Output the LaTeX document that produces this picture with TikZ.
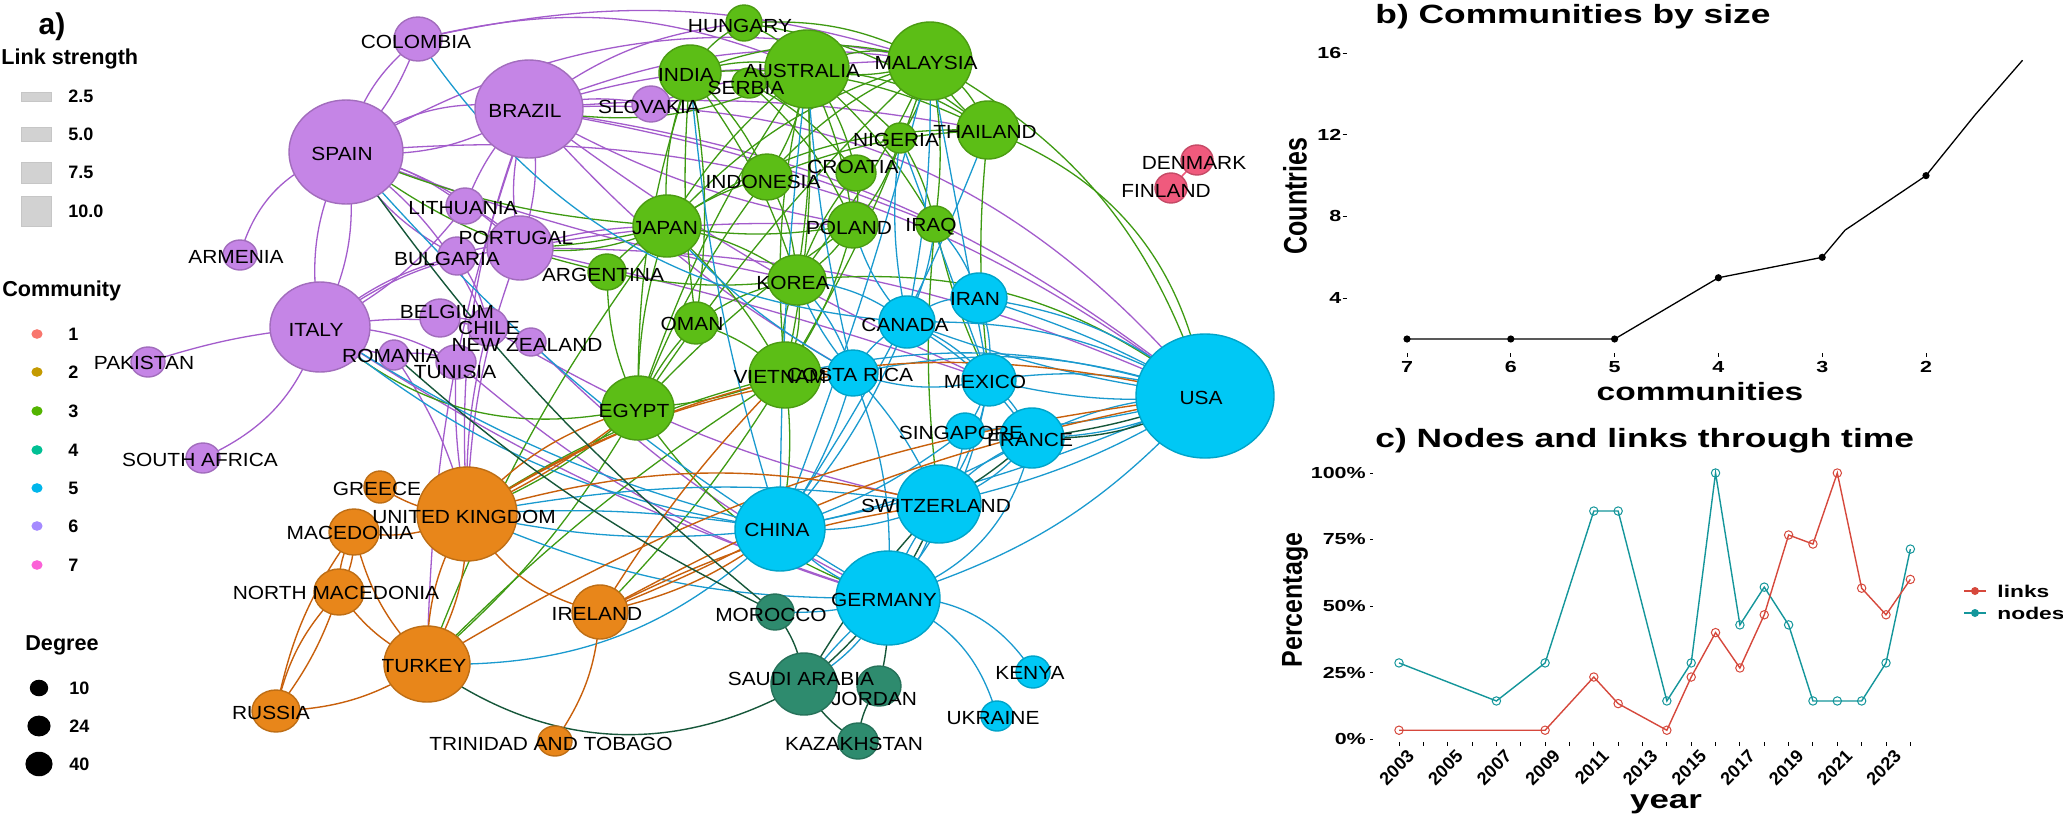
\documentclass[tikz,border=0pt]{standalone}
\usepackage{fontspec}
\usepackage{graphicx}
\setmainfont{Liberation Sans}
\newfontfamily\netfont[FakeStretch=1.1]{Liberation Sans}
\newfontfamily\panelfont[FakeStretch=1.34]{Liberation Sans}
\usetikzlibrary{shapes.geometric}
\pgfdeclarelayer{bg}
\pgfsetlayers{bg,main}
\definecolor{nP}{HTML}{C585E6}
\definecolor{nG}{HTML}{5CBE16}
\definecolor{nC}{HTML}{00C8F5}
\definecolor{nO}{HTML}{E8861A}
\definecolor{nT}{HTML}{2E8B6E}
\definecolor{nR}{HTML}{F05A7D}
\definecolor{eP}{HTML}{A35CCC}
\definecolor{eG}{HTML}{3E9A12}
\definecolor{eC}{HTML}{1A9ACF}
\definecolor{eO}{HTML}{C8600C}
\definecolor{eT}{HTML}{16573A}
\definecolor{cA}{HTML}{F8766D}
\definecolor{cB}{HTML}{C49A00}
\definecolor{cCC}{HTML}{53B400}
\definecolor{cD}{HTML}{00C094}
\definecolor{cE}{HTML}{00B6EB}
\definecolor{cF}{HTML}{A58AFF}
\definecolor{cH}{HTML}{FB61D7}
\definecolor{linkc}{HTML}{D6483C}
\definecolor{nodec}{HTML}{14969B}
\newcommand\pnlf[1]{\panelfont\bfseries\fontsize{#1}{#1}\selectfont}
\newcommand\cn[6]{\node[cnode, fill=#6, draw=#6!82!black, minimum width=#4pt, minimum height=#5pt] (#1) at (#2,-#3) {};}
\newcommand\lb[4]{\node[lbl] (#1l) at (#2,-#3) {#4};}
\newcommand\ed[4]{\pgfmathsetmacro\bnd{1.5*(#4)}\draw[#1] (#2.center) to[bend left=\bnd] (#3.center);}
\tikzset{
  cnode/.style={ellipse, inner sep=0pt, line width=0.7pt},
  lbl/.style={font=\netfont\fontsize{9.5}{10}\selectfont, inner sep=0pt, text=black},
  ep/.style={draw=eP, line width=0.65pt},
  eg/.style={draw=eG, line width=0.65pt},
  ec/.style={draw=eC, line width=0.65pt},
  eo/.style={draw=eO, line width=0.7pt},
  et/.style={draw=eT, line width=0.7pt},
  er/.style={draw=nR, line width=0.8pt},
  legt/.style={font=\bfseries\fontsize{10.8}{12}\selectfont, inner sep=0pt, anchor=west},
  legl/.style={font=\bfseries\fontsize{9}{10}\selectfont, inner sep=0pt, anchor=west},
  tickl/.style={font=\pnlf{8}, inner sep=0pt},
}
\begin{document}
\begin{tikzpicture}[x=0.5pt,y=0.5pt]
\useasboundingbox (0,0) rectangle (2063,-815);

% ---------------- network nodes ----------------
% community 6 (purple)
\cn{COL}{418}{39}{24}{22}{nP}
\cn{SPA}{346}{152}{57}{52}{nP}
\cn{BRA}{529}{109}{54}{49}{nP}
\cn{SLO}{651}{104}{19}{18}{nP}
\cn{LIT}{465}{206}{19}{18}{nP}
\cn{POR}{520}{248}{33}{32}{nP}
\cn{BUL}{457}{256}{19}{19}{nP}
\cn{BEL}{440}{318}{20}{19}{nP}
\cn{CHI}{488}{327}{20}{19}{nP}
\cn{NZ}{531}{342}{15}{14}{nP}
\cn{ROM}{394}{355}{15}{15}{nP}
\cn{TUN}{456}{362}{20}{17}{nP}
\cn{ITA}{320}{327}{50}{45}{nP}
\cn{ARM}{240}{255}{17}{15}{nP}
\cn{PAK}{148}{362}{17}{15}{nP}
\cn{SAF}{203}{458}{17}{15}{nP}
% community 3 (green)
\cn{HUN}{744}{23}{18}{18}{nG}
\cn{IND}{690}{73}{31}{28}{nG}
\cn{SER}{749}{83}{17}{15}{nG}
\cn{AUS}{807}{69}{42}{39}{nG}
\cn{MAL}{930}{61}{42}{39}{nG}
\cn{THA}{988}{130}{31}{29}{nG}
\cn{NIG}{900}{138}{16}{15}{nG}
\cn{CRO}{856}{173}{20}{18}{nG}
\cn{INDO}{767}{177}{25}{23}{nG}
\cn{POL}{853}{225}{25}{23}{nG}
\cn{IRQ}{935}{224}{19}{18}{nG}
\cn{JAP}{667}{226}{34}{31}{nG}
\cn{ARG}{607}{272}{19}{18}{nG}
\cn{KOR}{797}{280}{29}{25}{nG}
\cn{OMA}{696}{323}{22}{21}{nG}
\cn{VIE}{785}{375}{36}{33}{nG}
\cn{EGY}{638}{408}{36}{32}{nG}
% community 5 (cyan)
\cn{IRN}{979}{298}{28}{25}{nC}
\cn{CAN}{907}{322}{28}{26}{nC}
\cn{CR}{853}{373}{25}{23}{nC}
\cn{MEX}{989}{380}{27}{26}{nC}
\cn{USA}{1205}{396}{69}{62}{nC}
\cn{SIN}{965}{431}{19}{18}{nC}
\cn{FRA}{1032}{438}{32}{30}{nC}
\cn{SWI}{939}{504}{42}{39}{nC}
\cn{CHN}{780}{529}{45}{42}{nC}
\cn{GER}{888}{598}{52}{47}{nC}
\cn{KEN}{1033}{672}{17}{16}{nC}
\cn{UKR}{997}{716}{16}{15}{nC}
% community 4 (dark teal)
\cn{MOR}{775}{612}{19}{18}{nT}
\cn{SAU}{804}{684}{33}{31}{nT}
\cn{JOR}{879}{686}{22}{20}{nT}
\cn{KAZ}{858}{741}{20}{18}{nT}
% community 2 (orange)
\cn{GRE}{380}{487}{16}{16}{nO}
\cn{UK}{467}{514}{50}{47}{nO}
\cn{MAC}{354}{532}{25}{23}{nO}
\cn{NMAC}{339}{592}{25}{23}{nO}
\cn{IRE}{600}{612}{28}{27}{nO}
\cn{TUR}{427}{664}{43}{38}{nO}
\cn{RUS}{276}{711}{24}{21}{nO}
\cn{TRI}{555}{741}{17}{15}{nO}
% community 1
\cn{DEN}{1197}{160}{16}{15}{nR}
\cn{FIN}{1171}{188}{16}{15}{nR}

% ---------------- edges (behind) ----------------
\begin{pgfonlayer}{bg}
\fill[white] (0,0) rectangle (2063,-815);
% purple
\ed{ep}{SPA}{COL}{12}\ed{ep}{SPA}{COL}{-8}\ed{ep}{COL}{AUS}{12}
\ed{ep}{SPA}{BRA}{15}\ed{ep}{SPA}{BRA}{-12}\ed{ep}{BRA}{HUN}{10}
\ed{ep}{BRA}{AUS}{6}\ed{ep}{BRA}{MAL}{10}\ed{ep}{BRA}{THA}{5}
\ed{ep}{BRA}{POL}{-6}\ed{ep}{BRA}{USA}{18}\ed{ep}{BRA}{USA}{10}
\ed{ep}{SPA}{USA}{14}\ed{ep}{POR}{USA}{8}\ed{ep}{BRA}{MEX}{-4}
\ed{ep}{SPA}{POR}{10}\ed{ep}{SPA}{LIT}{8}\ed{ep}{BUL}{SPA}{10}
\ed{ep}{CHI}{SPA}{-10}\ed{ep}{ITA}{SPA}{12}\ed{ep}{ITA}{SPA}{-12}
\ed{ep}{ARM}{SPA}{20}\ed{ep}{POR}{BRA}{10}\ed{ep}{POR}{BRA}{-10}
\ed{ep}{LIT}{BRA}{8}\ed{ep}{BUL}{POR}{10}\ed{ep}{ITA}{POR}{10}
\ed{ep}{ITA}{BUL}{8}\ed{ep}{ITA}{LIT}{-8}\ed{ep}{ITA}{CHI}{6}
\ed{ep}{ROM}{ITA}{10}\ed{ep}{TUN}{ITA}{-10}\ed{ep}{PAK}{ITA}{4}
\ed{ep}{SAF}{ITA}{-16}\ed{ep}{POR}{JAP}{5}\ed{ep}{POR}{POL}{4}
\ed{ep}{GER}{TUN}{8}\ed{ep}{UK}{POR}{6}\ed{ep}{UK}{BRA}{8}
\ed{ep}{UK}{CHI}{5}\ed{ep}{UK}{ROM}{-6}\ed{ep}{UK}{TUN}{4}
\ed{ep}{TUR}{BRA}{6}\ed{ep}{BRA}{SLO}{8}\ed{ep}{SLO}{MAL}{6}
\ed{ep}{GER}{NZ}{6}\ed{ep}{CHI}{SWI}{-6}\ed{ep}{BRA}{CR}{-6}
\ed{ep}{BEL}{CHI}{10}\ed{ep}{ROM}{TUN}{10}\ed{ep}{BUL}{CHI}{8}
\ed{ep}{LIT}{POR}{10}\ed{ep}{SPA}{MAL}{14}\ed{ep}{COL}{MAL}{10}
\ed{ep}{BRA}{IRQ}{4}\ed{ep}{POR}{MEX}{2}\ed{ep}{SPA}{KOR}{-3}
\ed{ep}{ITA}{GER}{-5}
% green
\ed{eg}{IND}{HUN}{10}\ed{eg}{HUN}{AUS}{10}\ed{eg}{HUN}{MAL}{10}
\ed{eg}{IND}{AUS}{10}\ed{eg}{IND}{MAL}{12}\ed{eg}{IND}{INDO}{8}
\ed{eg}{JAP}{IND}{8}\ed{eg}{IND}{OMA}{6}\ed{eg}{IND}{OMA}{-4}
\ed{eg}{EGY}{IND}{6}\ed{eg}{IND}{KOR}{6}\ed{eg}{SER}{AUS}{10}
\ed{eg}{SER}{POL}{8}\ed{eg}{SER}{CRO}{8}\ed{eg}{AUS}{MAL}{15}
\ed{eg}{AUS}{MAL}{-10}\ed{eg}{AUS}{INDO}{8}\ed{eg}{AUS}{POL}{6}
\ed{eg}{AUS}{KOR}{4}\ed{eg}{AUS}{VIE}{5}\ed{eg}{AUS}{VIE}{-6}
\ed{eg}{JAP}{AUS}{6}\ed{eg}{AUS}{CRO}{8}\ed{eg}{AUS}{THA}{10}
\ed{eg}{AUS}{NIG}{6}\ed{eg}{EGY}{AUS}{5}\ed{eg}{BRA}{AUS}{-12}
\ed{eg}{AUS}{IRQ}{6}\ed{eg}{MAL}{THA}{12}\ed{eg}{MAL}{THA}{-8}
\ed{eg}{MAL}{NIG}{8}\ed{eg}{INDO}{MAL}{8}\ed{eg}{MAL}{IRQ}{6}
\ed{eg}{MAL}{KOR}{4}\ed{eg}{MAL}{VIE}{4}\ed{eg}{JAP}{MAL}{10}
\ed{eg}{MAL}{USA}{14}\ed{eg}{EGY}{MAL}{4}\ed{eg}{THA}{USA}{20}
\ed{eg}{THA}{MEX}{-4}\ed{eg}{JAP}{THA}{12}\ed{eg}{NIG}{IRQ}{6}
\ed{eg}{NIG}{POL}{8}\ed{eg}{CRO}{POL}{8}\ed{eg}{JAP}{INDO}{6}
\ed{eg}{INDO}{KOR}{8}\ed{eg}{EGY}{INDO}{5}\ed{eg}{POL}{KOR}{8}
\ed{eg}{POL}{VIE}{6}\ed{eg}{JAP}{POL}{-6}\ed{eg}{EGY}{POL}{4}
\ed{eg}{ARG}{JAP}{8}\ed{eg}{POR}{JAP}{-4}\ed{eg}{POR}{JAP}{-10}
\ed{eg}{SPA}{JAP}{-6}\ed{eg}{JAP}{KOR}{8}\ed{eg}{EGY}{JAP}{6}
\ed{eg}{JAP}{VIE}{6}\ed{eg}{TUR}{JAP}{5}\ed{eg}{EGY}{ARG}{8}
\ed{eg}{ARG}{KOR}{-6}\ed{eg}{SPA}{ARG}{-8}\ed{eg}{OMA}{KOR}{8}
\ed{eg}{OMA}{VIE}{8}\ed{eg}{EGY}{OMA}{6}\ed{eg}{KOR}{VIE}{10}
\ed{eg}{KOR}{VIE}{-10}\ed{eg}{KOR}{USA}{14}\ed{eg}{VIE}{EGY}{6}
\ed{eg}{VIE}{CHN}{6}\ed{eg}{VIE}{UK}{-6}\ed{eg}{VIE}{TUR}{-4}
\ed{eg}{VIE}{IRE}{4}\ed{eg}{EGY}{ITA}{18}\ed{eg}{EGY}{TUR}{6}
\ed{eg}{UK}{EGY}{-6}\ed{eg}{GER}{EGY}{12}\ed{eg}{IRQ}{MEX}{-4}
\ed{eg}{IRQ}{SWI}{-4}\ed{eg}{KOR}{CRO}{6}\ed{eg}{IND}{THA}{10}
\ed{eg}{HUN}{THA}{10}\ed{eg}{INDO}{THA}{6}
% cyan
\ed{ec}{IRN}{USA}{10}\ed{ec}{IRN}{USA}{4}\ed{ec}{CAN}{USA}{10}
\ed{ec}{CAN}{USA}{-4}\ed{ec}{MEX}{USA}{8}\ed{ec}{MEX}{USA}{-6}
\ed{ec}{USA}{FRA}{8}\ed{ec}{USA}{FRA}{-8}\ed{ec}{USA}{SWI}{6}
\ed{ec}{USA}{SIN}{4}\ed{ec}{CR}{USA}{10}\ed{ec}{USA}{CHN}{4}
\ed{ec}{USA}{GER}{10}\ed{ec}{VIE}{USA}{10}\ed{ec}{CAN}{IRN}{15}
\ed{ec}{IRN}{MEX}{8}\ed{ec}{IRQ}{IRN}{8}\ed{ec}{NIG}{CAN}{-6}
\ed{ec}{POL}{CAN}{-8}\ed{ec}{COL}{CAN}{-17}\ed{ec}{KOR}{CAN}{10}
\ed{ec}{CAN}{MEX}{8}\ed{ec}{CAN}{CR}{-10}\ed{ec}{CAN}{CHN}{6}
\ed{ec}{CAN}{FRA}{8}\ed{ec}{CR}{CHN}{6}\ed{ec}{CR}{GER}{8}
\ed{ec}{KOR}{CR}{8}\ed{ec}{KOR}{CR}{-6}\ed{ec}{CR}{MEX}{-10}
\ed{ec}{CR}{SWI}{6}\ed{ec}{MEX}{FRA}{8}\ed{ec}{MEX}{SWI}{8}
\ed{ec}{MEX}{SIN}{6}\ed{ec}{MEX}{GER}{10}\ed{ec}{SIN}{FRA}{10}
\ed{ec}{SIN}{SWI}{8}\ed{ec}{SIN}{CHN}{6}\ed{ec}{FRA}{SWI}{10}
\ed{ec}{FRA}{SWI}{-8}\ed{ec}{FRA}{GER}{20}\ed{ec}{FRA}{CHN}{6}
\ed{ec}{SWI}{GER}{10}\ed{ec}{SWI}{GER}{-6}\ed{ec}{SWI}{CHN}{8}
\ed{ec}{SWI}{UK}{-6}\ed{ec}{GER}{CHN}{10}\ed{ec}{CHN}{UK}{6}
\ed{ec}{CHN}{UK}{-4}\ed{ec}{CHN}{TUR}{15}\ed{ec}{CHN}{ITA}{10}
\ed{ec}{CHN}{ITA}{6}\ed{ec}{MAL}{CHN}{2}\ed{ec}{AUS}{CHN}{-2}
\ed{ec}{THA}{CHN}{4}\ed{ec}{GER}{KEN}{20}\ed{ec}{GER}{UKR}{18}
\ed{ec}{GER}{MOR}{6}\ed{ec}{GER}{SAU}{10}\ed{ec}{GER}{SAU}{-4}
\ed{ec}{GER}{UK}{8}\ed{ec}{GER}{SPA}{6}\ed{ec}{MAL}{MEX}{0}
\ed{ec}{MAL}{CAN}{4}\ed{ec}{IRQ}{CAN}{6}\ed{ec}{JAP}{CR}{-6}
\ed{ec}{IND}{CHN}{-4}\ed{ec}{AUS}{CR}{-3}\ed{ec}{NIG}{MEX}{0}
% orange
\ed{eo}{UK}{GRE}{10}\ed{eo}{UK}{MAC}{12}\ed{eo}{TUR}{UK}{10}
\ed{eo}{TUR}{UK}{-10}\ed{eo}{IRE}{UK}{15}\ed{eo}{UK}{EGY}{10}
\ed{eo}{UK}{EGY}{-4}\ed{eo}{UK}{USA}{15}\ed{eo}{NMAC}{MAC}{10}
\ed{eo}{NMAC}{MAC}{-10}\ed{eo}{RUS}{MAC}{8}\ed{eo}{RUS}{NMAC}{10}
\ed{eo}{RUS}{NMAC}{-6}\ed{eo}{TUR}{MAC}{10}\ed{eo}{TUR}{NMAC}{10}
\ed{eo}{TUR}{RUS}{10}\ed{eo}{IRE}{TRI}{10}\ed{eo}{CHN}{IRE}{8}
\ed{eo}{CHN}{IRE}{2}\ed{eo}{VIE}{IRE}{-4}\ed{eo}{SWI}{IRE}{-6}
\ed{eo}{USA}{TUR}{-8}\ed{eo}{USA}{IRE}{-6}\ed{eo}{SWI}{UK}{-10}
\ed{eo}{CR}{UK}{-8}
% dark teal
\ed{et}{SAU}{TUR}{22}\ed{et}{MOR}{SAU}{10}\ed{et}{KAZ}{SAU}{10}
\ed{et}{JOR}{KAZ}{-10}\ed{et}{GER}{JOR}{5}\ed{et}{GER}{SAU}{4}
\ed{et}{SWI}{SAU}{-4}\ed{et}{SWI}{GER}{4}\ed{et}{FRA}{SWI}{4}
\ed{et}{USA}{FRA}{10}\ed{et}{USA}{FRA}{4}\ed{et}{MOR}{SPA}{5}
\ed{et}{MOR}{ROM}{5}
% red
\ed{er}{DEN}{FIN}{0}
\end{pgfonlayer}

% ---------------- node labels ----------------
\lb{COL}{416}{42}{COLOMBIA}
\lb{SPA}{342}{154}{SPAIN}
\lb{BRA}{525}{111}{BRAZIL}
\lb{SLO}{649}{107}{SLOVAKIA}
\lb{LIT}{463}{208}{LITHUANIA}
\lb{POR}{516}{238}{PORTUGAL}
\lb{BUL}{447}{259}{BULGARIA}
\lb{BEL}{447}{312}{BELGIUM}
\lb{CHI}{489}{328}{CHILE}
\lb{NZ}{527}{345}{NEW ZEALAND}
\lb{ROM}{391}{356}{ROMANIA}
\lb{TUN}{455}{372}{TUNISIA}
\lb{ITA}{316}{330}{ITALY}
\lb{ARM}{236}{257}{ARMENIA}
\lb{PAK}{144}{363}{PAKISTAN}
\lb{SAF}{200}{460}{SOUTH AFRICA}
\lb{HUN}{740}{26}{HUNGARY}
\lb{IND}{686}{75}{INDIA}
\lb{SER}{746}{88}{SERBIA}
\lb{AUS}{802}{71}{AUSTRALIA}
\lb{MAL}{926}{63}{MALAYSIA}
\lb{THA}{985}{132}{THAILAND}
\lb{NIG}{896}{140}{NIGERIA}
\lb{CRO}{853}{167}{CROATIA}
\lb{INDO}{763}{182}{INDONESIA}
\lb{POL}{849}{228}{POLAND}
\lb{IRQ}{931}{227}{IRAQ}
\lb{JAP}{665}{228}{JAPAN}
\lb{ARG}{603}{275}{ARGENTINA}
\lb{KOR}{793}{283}{KOREA}
\lb{OMA}{692}{324}{OMAN}
\lb{VIE}{780}{377}{VIETNAM}
\lb{EGY}{634}{411}{EGYPT}
\lb{IRN}{975}{299}{IRAN}
\lb{CAN}{905}{325}{CANADA}
\lb{CR}{850}{375}{COSTA RICA}
\lb{MEX}{985}{382}{MEXICO}
\lb{USA}{1201}{398}{USA}
\lb{SIN}{961}{433}{SINGAPORE}
\lb{FRA}{1030}{440}{FRANCE}
\lb{SWI}{936}{506}{SWITZERLAND}
\lb{CHN}{777}{530}{CHINA}
\lb{GER}{884}{600}{GERMANY}
\lb{KEN}{1030}{673}{KENYA}
\lb{UKR}{993}{718}{UKRAINE}
\lb{MOR}{771}{615}{MOROCCO}
\lb{SAU}{801}{679}{SAUDI ARABIA}
\lb{JOR}{874}{699}{JORDAN}
\lb{KAZ}{854}{744}{KAZAKHSTAN}
\lb{GRE}{377}{489}{GREECE}
\lb{UK}{464}{517}{UNITED KINGDOM}
\lb{MAC}{350}{533}{MACEDONIA}
\lb{NMAC}{336}{593}{NORTH MACEDONIA}
\lb{IRE}{597}{614}{IRELAND}
\lb{TUR}{424}{666}{TURKEY}
\lb{RUS}{271}{713}{RUSSIA}
\lb{TRI}{551}{744}{TRINIDAD AND TOBAGO}
\lb{DEN}{1194}{163}{DENMARK}
\lb{FIN}{1166}{191}{FINLAND}

% ---------------- left legends ----------------
\node[font=\bfseries\fontsize{15}{16}\selectfont, inner sep=0pt] (pa) at (52,-27) {a)};
\node[legt] (lst) at (1,-59) {Link strength};
\foreach \ya/\yb/\t [count=\i] in {92/101/2.5, 127/141/5.0, 162/183/7.5, 196/226/10.0}{
  \fill[gray!35, draw=gray!45, line width=0.3pt] (21,-\ya) rectangle (51,-\yb);
  \node[legl] (ls\i) at (68,{-(\ya+\yb)/2}) {\t};
}
\node[legt] (cmt) at (2,-291) {Community};
\foreach \c/\y [count=\i] in {cA/334, cB/372, cCC/411, cD/450, cE/488, cF/526, cH/565}{
  \fill[\c] (37,-\y) ellipse (2.8pt and 2.4pt);
  \node[legl] (cm\i) at (68,-\y) {\i};
}
\node[legt] (dgt) at (25,-645) {Degree};
\foreach \r/\y/\t [count=\i] in {4.6/688/10, 5.8/726/24, 6.8/764/40}{
  \fill[black] (39,-\y) ellipse ({\r pt} and {0.9*\r pt});
  \node[legl] (dg\i) at (69,-\y) {\t};
}

% ---------------- panel b ----------------
\node[font=\pnlf{13.2}, anchor=base west, inner sep=0pt] (tb) at (1375,-23) {b) Communities by size};
\node[inner sep=0pt] (yb) at (1295,-196) {\scalebox{1.3}[1]{\rotatebox{90}{\bfseries\fontsize{12.5}{13}\selectfont Countries}}};
\node[font=\pnlf{12.5}, anchor=base, inner sep=0pt] (xb) at (1700,-400) {communities};
\begin{scope}[shift={(1407,-339)}, x=51.9pt, y=10.21pt]
  \foreach \v in {4,8,12,16}{
    \draw[line width=0.5pt] (-0.62,\v-2) -- (-0.58,\v-2);
    \node[tickl, anchor=east] at (-0.63,\v-2) {\v};
  }
  \foreach \k [count=\i from 0] in {7,6,5,4,3,2}{
    \draw[line width=0.5pt] (\i,-0.69) -- (\i,-0.88);
    \node[tickl] at (\i,-1.37) {\k};
  }
  \draw[black, line width=0.65pt] (0,0) -- (1,0) -- (2,0) -- (3,3) -- (4,4) -- (4.22,5.33) -- (5,8) -- (5.47,10.96) -- (5.93,13.65);
  \foreach \p in {(0,0),(1,0),(2,0),(3,3),(4,4),(5,8)}{ \fill[black] \p circle (1.8pt); }
\end{scope}

% ---------------- panel c ----------------
\node[font=\pnlf{13.2}, anchor=base west, inner sep=0pt] (tc) at (1375,-447) {c) Nodes and links through time};
\node[inner sep=0pt] (yc) at (1295,-600) {\scalebox{1.15}[1]{\rotatebox{90}{\bfseries\fontsize{12.5}{13}\selectfont Percentage}}};
\node[font=\pnlf{13}, anchor=base, inner sep=0pt] (xc) at (1666,-808) {year};
\begin{scope}[shift={(1399,-739)}, x=12.175pt, y=1.33pt]
  \foreach \p/\t in {0/0\%, 25/25\%, 50/50\%, 75/75\%, 100/100\%}{
    \draw[line width=0.5pt] (-1.18,\p) -- (-1.05,\p);
    \node[tickl, anchor=east] at (-1.35,\p) {\t};
  }
  \foreach \i in {0,...,21}{ \draw[line width=0.5pt] (\i,-1.2) -- (\i,-2.6); }
  \foreach \i in {0,2,...,20}{
    \pgfmathtruncatemacro\yr{2003+\i}
    \node[font=\bfseries\fontsize{9}{10}\selectfont, rotate=45, anchor=north east, inner sep=0pt] at (\i+0.3,-3.5) {\yr};
  }
  \draw[nodec, line width=0.7pt] (0,28.6) -- (4,14.3) -- (6,28.6) -- (8,85.7) -- (9,85.7) -- (11,14.3) -- (12,28.6) -- (13,100) -- (14,42.9) -- (15,57.1) -- (16,42.9) -- (17,14.3) -- (18,14.3) -- (19,14.3) -- (20,28.6) -- (21,71.4);
  \foreach \p in {(0,28.6),(4,14.3),(6,28.6),(8,85.7),(9,85.7),(11,14.3),(12,28.6),(13,100),(14,42.9),(15,57.1),(16,42.9),(17,14.3),(18,14.3),(19,14.3),(20,28.6),(21,71.4)}{ \draw[nodec, line width=0.5pt] \p circle (2.1pt); }
  \draw[linkc, line width=0.7pt] (0,3.3) -- (6,3.3) -- (8,23.3) -- (9,13.3) -- (11,3.3) -- (12,23.3) -- (13,40) -- (14,26.7) -- (15,46.7) -- (16,76.7) -- (17,73.3) -- (18,100) -- (19,56.7) -- (20,46.7) -- (21,60);
  \foreach \p in {(0,3.3),(6,3.3),(8,23.3),(9,13.3),(11,3.3),(12,23.3),(13,40),(14,26.7),(15,46.7),(16,76.7),(17,73.3),(18,100),(19,56.7),(20,46.7),(21,60)}{ \draw[linkc, line width=0.5pt] \p circle (2.1pt); }
\end{scope}
% legend c
\draw[linkc, line width=0.7pt] (1964,-591) -- (1986,-591);
\fill[linkc] (1975,-591) circle (2pt);
\node[font=\pnlf{8.5}, anchor=west, inner sep=0pt] (lgl) at (1997,-591) {links};
\draw[nodec, line width=0.7pt] (1964,-613) -- (1986,-613);
\fill[nodec] (1975,-613) circle (2pt);
\node[font=\pnlf{8.5}, anchor=west, inner sep=0pt] (lgn) at (1997,-613) {nodes};
\end{tikzpicture}
\end{document}
